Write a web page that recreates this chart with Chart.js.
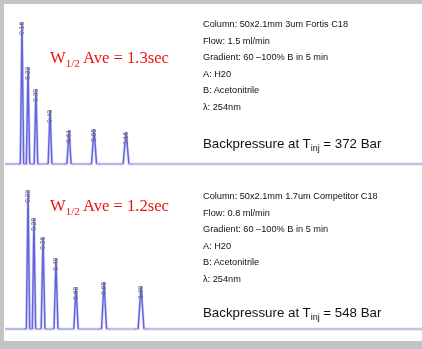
<!DOCTYPE html>
<html>
<head>
<meta charset="utf-8">
<script src="https://cdn.jsdelivr.net/npm/chart.js@4/dist/chart.umd.min.js"></script>
<style>
  html, body { margin: 0; padding: 0; }
  body { width: 422px; height: 349px; background: #c4c4c4; position: relative; overflow: hidden; font-family: "Liberation Sans", Arial, sans-serif; }
  #panel { position: absolute; left: 4px; top: 4px; width: 418px; height: 337px; background: #fff; }
  canvas { position: absolute; }
  .w { position: absolute; left: 50px; color: #f01010; font-family: "Liberation Serif", "Times New Roman", serif; font-size: 16.6px; white-space: nowrap; line-height: 16px; }
  .w sub { font-size: 11px; vertical-align: -4px; line-height: 0; }
  .info { position: absolute; left: 203px; font-size: 9.2px; color: #111; white-space: nowrap; line-height: 16.5px; }
  .bp { position: absolute; left: 203px; font-size: 13.3px; color: #111; white-space: nowrap; line-height: 14px; }
  .bp sub { font-size: 9px; vertical-align: -3px; line-height: 0; }
</style>
</head>
<body>
<div id="panel"></div>
<canvas id="c-top" width="417" height="166" style="left:5px; top:4px"></canvas>
<canvas id="c-bot" width="417" height="166" style="left:5px; top:175px"></canvas>

<div class="w" style="top:50px">W<sub>1/2</sub> Ave = 1.3sec</div>
<div class="w" style="top:198px">W<sub>1/2</sub> Ave = 1.2sec</div>
<div class="info" id="info-top" style="top:16px"></div>
<div class="info" id="info-bot" style="top:188px"></div>
<div class="bp" style="top:137px">Backpressure at T<sub>inj</sub> = 372 Bar</div>
<div class="bp" style="top:306px">Backpressure at T<sub>inj</sub> = 548 Bar</div>

<script>
// 峰值資料（時間：分鐘，高度：任意單位）
const topTimes   = [0.163, 0.221, 0.297, 0.432, 0.614, 0.854, 1.161];
const topHeights = [142, 97, 75, 54, 34, 35, 32];
const topWidths  = [0.016, 0.016, 0.017, 0.018, 0.02, 0.024, 0.028];

const botTimes   = [0.221, 0.278, 0.365, 0.489, 0.681, 0.950, 1.305];
const botHeights = [139, 111, 92, 71, 42, 47, 43];
const botWidths  = [0.016, 0.016, 0.018, 0.019, 0.021, 0.024, 0.028];

const runLength = 4;

const topInfo = ['Column: 50x2.1mm 3um Fortis C18', 'Flow: 1.5 ml/min', 'Gradient: 60 \u2013100% B in 5 min', 'A: H20', 'B: Acetonitrile', '\u03bb: 254nm'];
const botInfo = ['Column: 50x2.1mm 1.7um Competitor C18', 'Flow: 0.8 ml/min', 'Gradient: 60 \u2013100% B in 5 min', 'A: H20', 'B: Acetonitrile', '\u03bb: 254nm'];

const $ = (id) => document.getElementById(id);
$('info-top').innerHTML = topInfo.join('<br>');
$('info-bot').innerHTML = botInfo.join('<br>');

function trace(times, heights, widths) {
  const pts = [{ x: 0, y: 0 }];
  times.forEach((t, i) => {
    pts.push({ x: t - widths[i], y: 0 }, { x: t, y: heights[i] }, { x: t + widths[i], y: 0 });
  });
  pts.push({ x: runLength, y: 0 });
  return pts;
}

// 積分起訖標記
function marks(times, widths) {
  const pts = [];
  times.forEach((t, i) => pts.push({ x: t - widths[i] * 2, y: 0 }, { x: t + widths[i] * 2, y: 0 }));
  return pts;
}

const flat = (c) => c.p0.parsed.y === 0 && c.p1.parsed.y === 0;

// 滯留時間標籤（峰頂直書）
const rtLabels = {
  id: 'rtLabels',
  afterDatasetsDraw(chart) {
    const { ctx, scales: { x, y } } = chart;
    const d = chart.data.datasets[0].data;
    ctx.save();
    ctx.font = '6.5px "Liberation Sans", sans-serif';
    ctx.fillStyle = '#666';
    ctx.textAlign = 'right';
    ctx.textBaseline = 'middle';
    d.forEach(p => {
      if (p.y <= 0) return;
      ctx.save();
      ctx.translate(x.getPixelForValue(p.x), y.getPixelForValue(p.y));
      ctx.rotate(-Math.PI / 2);
      ctx.fillText(p.x.toFixed(2), 0, 0);
      ctx.restore();
    });
    ctx.restore();
  },
};

function makeChart(id, times, heights, widths, yMin, yMax) {
  const data = trace(times, heights, widths);
  return new Chart($(id), {
    type: 'line',
    data: {
      datasets: [
        {
          data, borderColor: '#6464dc', borderWidth: 1.5, pointRadius: 0, tension: 0, order: 0,
          segment: { borderColor: c => flat(c) ? '#9e9ee6' : undefined, borderWidth: c => flat(c) ? 1.2 : undefined },
        },
        { data, borderColor: 'rgba(175,175,240,0.4)', borderWidth: 3, pointRadius: 0, tension: 0, order: 2 },
        { type: 'scatter', data: marks(times, widths), pointRadius: 1.1, pointBackgroundColor: 'rgba(230,120,210,0.6)', pointBorderWidth: 0, order: 1 },
      ],
    },
    options: {
      responsive: false,
      animation: false,
      devicePixelRatio: 1,
      layout: { padding: 0, autoPadding: false },
      scales: {
        x: { type: 'linear', min: 0, max: runLength, display: false },
        y: { min: yMin, max: yMax, display: false },
      },
      plugins: { legend: { display: false }, tooltip: { enabled: false } },
    },
    plugins: [rtLabels],
  });
}

makeChart('c-top', topTimes, topHeights, topWidths, -6, 160);
makeChart('c-bot', botTimes, botHeights, botWidths, -12, 154);
</script>
</body>
</html>
